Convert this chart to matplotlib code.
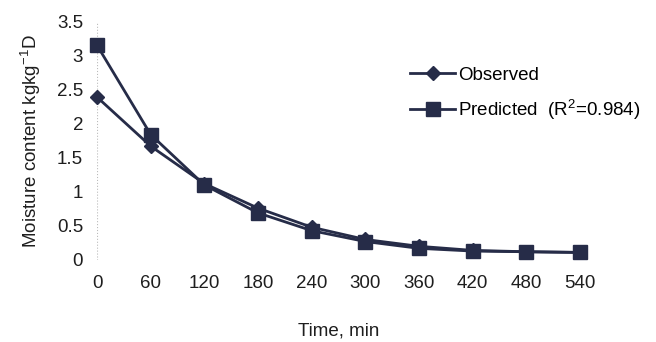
import matplotlib
matplotlib.use("Agg")
import matplotlib.pyplot as plt

plt.rcParams['font.family'] = ['Liberation Sans', 'DejaVu Sans']

time_min = [0, 60, 120, 180, 240, 300, 360, 420, 480, 540]
observed = [2.39, 1.67, 1.12, 0.76, 0.48, 0.30, 0.20, 0.14, 0.12, 0.11]
predicted = [3.15, 1.84, 1.10, 0.69, 0.43, 0.27, 0.17, 0.13, 0.12, 0.11]
y_ticks = [0, 0.5, 1, 1.5, 2, 2.5, 3, 3.5]
y_tick_labels = ['0', '0.5', '1', '1.5', '2', '2.5', '3', '3.5']

color = '#262c48'
text_color = '#1e1e1e'
fs = 13.5

fig = plt.figure(figsize=(6.56, 3.42), dpi=100)
ax = fig.add_axes([0.148, 0.240, 0.736, 0.697])

ax.plot(time_min, observed, color=color, lw=2, marker='D', ms=7.5,
        label='Observed', clip_on=False, zorder=3)
ax.plot(time_min, predicted, color=color, lw=2, marker='s', ms=10,
        label='Predicted  (R$^\\mathregular{2}$=0.984)', clip_on=False, zorder=3)

ax.set_xlim(0, 540)
ax.set_ylim(0, 3.5)
ax.set_xticks(time_min)
ax.set_xticklabels([str(t) for t in time_min])
ax.set_yticks(y_ticks)
ax.set_yticklabels(y_tick_labels)
ax.tick_params(length=0, labelsize=fs, colors=text_color)
ax.tick_params(axis='x', pad=11)
ax.tick_params(axis='y', pad=10)
for s in ax.spines.values():
    s.set_visible(False)
ax.axvline(0, color='#bbbbbb', lw=0.8, ls=':', zorder=1)

ax.set_xlabel('Time, min', fontsize=fs, color=text_color, labelpad=22)
ax.set_ylabel('Moisture content kgkg$^\\mathregular{-1}$D', fontsize=fs,
              color=text_color, labelpad=10)

fig.legend(loc='center left', bbox_to_anchor=(0.625, 0.725), frameon=False,
           fontsize=fs, handlelength=2.4, labelspacing=0.7, handletextpad=0.15,
           borderaxespad=0, borderpad=0)

fig.savefig('out.png', dpi=100, facecolor='white')
